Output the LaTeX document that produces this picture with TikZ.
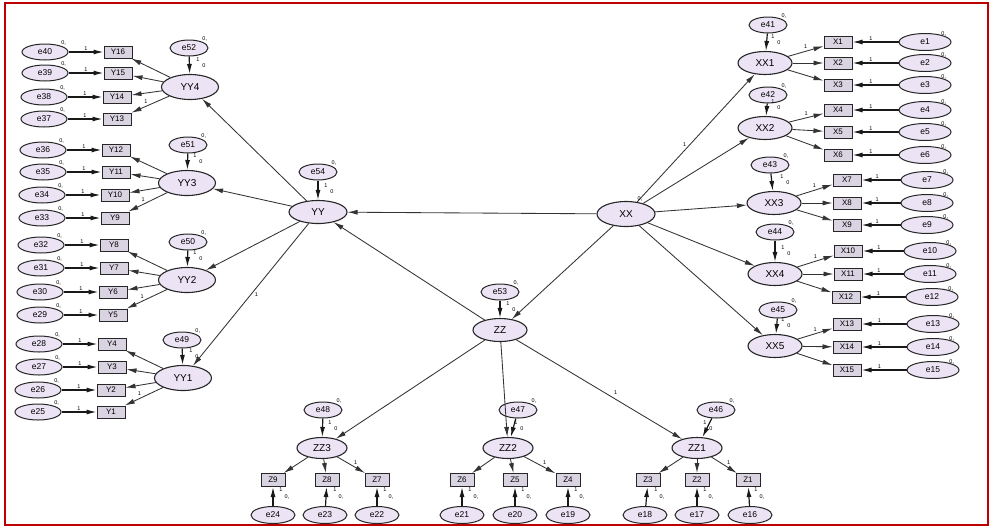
\documentclass[tikz,border=0pt]{standalone}
\usepackage{fontspec}
\setmainfont{Liberation Sans}
\usetikzlibrary{shapes.geometric,arrows.meta}
\definecolor{lav}{HTML}{ECE4F5}
\definecolor{boxc}{HTML}{DAD4E2}
\definecolor{framered}{HTML}{C00000}
\begin{document}
\begin{tikzpicture}[x=1pt,y=-1pt,
 err/.style={ellipse, draw=black!85, line width=1pt, fill=lav, minimum width=46pt, minimum height=16pt, inner sep=0pt, font=\fontsize{8.5}{8.5}\selectfont},
 rerr/.style={err, minimum width=52pt, minimum height=17pt},
 berr/.style={err, minimum width=44pt, minimum height=17pt},
 dist/.style={err, minimum width=38pt, minimum height=16pt},
 lat/.style={ellipse, draw=black!85, line width=1.1pt, fill=lav, minimum width=54pt, minimum height=23pt, inner sep=0pt, font=\fontsize{10}{10}\selectfont},
 obs/.style={rectangle, draw=black!85, line width=1pt, fill=boxc, minimum width=28pt, minimum height=12pt, inner sep=0pt, font=\fontsize{8}{8}\selectfont},
 bobs/.style={obs, minimum width=24pt, minimum height=13pt},
 arr/.style={-{Latex[length=10pt,width=5pt]}, line width=0.85pt, draw=black!80},
 earr/.style={arr, line width=1.2pt, draw=black!90},
 lbl/.style={font=\fontsize{5.5}{5.5}\selectfont, inner sep=0.5pt},
]
\useasboundingbox (0,0) rectangle (992,528);
\fill[white] (0,0) rectangle (992,528);
\draw[framered, line width=2pt] (5,3) rectangle (988,525);

% central latent variables
\node[lat, minimum width=58pt] (YY) at (318,212) {YY};
\node[lat, minimum width=58pt, minimum height=25pt] (XX) at (626,214) {XX};
\node[lat] (ZZ) at (500,330) {ZZ};
\node[dist] (e54) at (318,172) {e54};
\node[dist] (e53) at (500,292) {e53};

% first-order latent variables
\node[lat, minimum width=57pt, minimum height=25pt] (YY4) at (190,87) {YY4};
\node[lat, minimum width=57pt, minimum height=25pt] (YY3) at (187,183) {YY3};
\node[lat, minimum width=57pt, minimum height=25pt] (YY2) at (187,280) {YY2};
\node[lat, minimum width=57pt, minimum height=25pt] (YY1) at (183,378) {YY1};
\node[dist] (e52) at (189,48) {e52};
\node[dist] (e51) at (188,145) {e51};
\node[dist] (e50) at (188,242) {e50};
\node[dist] (e49) at (182,340) {e49};

\node[lat] (XX1) at (765,63) {XX1};
\node[lat] (XX2) at (765,128) {XX2};
\node[lat] (XX3) at (774,203) {XX3};
\node[lat] (XX4) at (775,274) {XX4};
\node[lat] (XX5) at (775,346) {XX5};
\node[dist] (e41) at (768,25) {e41};
\node[dist] (e42) at (768,95) {e42};
\node[dist] (e43) at (770,165) {e43};
\node[dist] (e44) at (775,232) {e44};
\node[dist] (e45) at (778,310) {e45};

\node[lat, minimum width=50pt, minimum height=21pt] (ZZ3) at (322,448) {ZZ3};
\node[lat, minimum width=50pt, minimum height=21pt] (ZZ2) at (508,448) {ZZ2};
\node[lat, minimum width=50pt, minimum height=21pt] (ZZ1) at (697,448) {ZZ1};
\node[dist] (e48) at (323,410) {e48};
\node[dist] (e47) at (518,410) {e47};
\node[dist] (e46) at (716,410) {e46};

% structural paths
\draw[arr] (XX) -- (YY);
\draw[arr] (ZZ) -- (YY);
\draw[arr] (XX) -- (ZZ);
\draw[arr] (YY) -- (YY4);
\draw[arr] (YY) -- (YY3);
\draw[arr] (YY) -- (YY2);
\draw[arr] (YY) -- (YY1) node[lbl, pos=0.5, right=3pt] {1};
\draw[arr] (XX) -- (XX1) node[lbl, pos=0.45, left=3pt] {1};
\draw[arr] (XX) -- (XX2);
\draw[arr] (XX) -- (XX3);
\draw[arr] (XX) -- (XX4);
\draw[arr] (XX) -- (XX5);
\draw[arr] (ZZ) -- (ZZ3);
\draw[arr] (ZZ) -- (ZZ2);
\draw[arr] (ZZ) -- (ZZ1) node[lbl, pos=0.6, above=4pt] {1};
\node[lbl] at (640,199) {0,};

% disturbances
\foreach \dn/\lv in {e52/YY4, e51/YY3, e50/YY2, e49/YY1, e54/YY, e53/ZZ, e41/XX1, e42/XX2, e43/XX3, e44/XX4, e45/XX5, e48/ZZ3, e47/ZZ2, e46/ZZ1}
{
 \draw[earr] (\dn) -- (\lv);
 \node[lbl] at ([xshift=8pt,yshift=14pt]\lv.north) {1};
 \node[lbl] at ([xshift=14pt,yshift=8pt]\lv.north) {0};
 \node[lbl] at ([xshift=2pt,yshift=3pt]\dn.north east) {0,};
}

% left indicators
\foreach \en/\bl/\y/\ex/\bx/\lv in {
 e40/Y16/52/45/118/YY4, e39/Y15/73/45/118/YY4, e38/Y14/97/44/117/YY4, e37/Y13/119/44/117/YY4,
 e36/Y12/150/43/116/YY3, e35/Y11/172/43/116/YY3, e34/Y10/195/42/115/YY3, e33/Y9/218/42/115/YY3,
 e32/Y8/245/41/114/YY2, e31/Y7/268/41/114/YY2, e30/Y6/292/40/113/YY2, e29/Y5/315/40/113/YY2,
 e28/Y4/344/39/112/YY1, e27/Y3/367/39/112/YY1, e26/Y2/390/38/111/YY1, e25/Y1/412/38/111/YY1}
{
 \node[err] (\en) at (\ex,\y) {\en};
 \node[obs] (\bl) at (\bx,\y) {\bl};
 \draw[earr] (\en) -- (\bl) node[lbl, midway, above=0.5pt] {1};
 \draw[arr] (\lv) -- (\bl);
 \node[lbl] at ([xshift=2pt,yshift=3pt]\en.north east) {0,};
}
\path (YY4) -- (Y13) node[lbl, pos=0.62, above=2pt] {1};
\path (YY3) -- (Y9) node[lbl, pos=0.62, above=2pt] {1};
\path (YY2) -- (Y5) node[lbl, pos=0.62, above=2pt] {1};
\path (YY1) -- (Y1) node[lbl, pos=0.62, above=2pt] {1};

% right indicators
\foreach \en/\bl/\y/\ex/\bx/\lv in {
 e1/X1/42/925/838/XX1, e2/X2/63/925/838/XX1, e3/X3/85/925/838/XX1,
 e4/X4/110/925/838/XX2, e5/X5/132/925/838/XX2, e6/X6/155/925/838/XX2,
 e7/X7/180/927/847/XX3, e8/X8/203/927/847/XX3, e9/X9/225/927/847/XX3,
 e10/X10/251/930/848/XX4, e11/X11/274/930/848/XX4, e12/X12/297/932/846/XX4,
 e13/X13/324/933/847/XX5, e14/X14/347/933/847/XX5, e15/X15/370/933/847/XX5}
{
 \node[rerr] (\en) at (\ex,\y) {\en};
 \node[obs] (\bl) at (\bx,\y) {\bl};
 \draw[earr] (\en) -- (\bl) node[lbl, pos=0.6, above=0.5pt] {1};
 \draw[arr] (\lv) -- (\bl);
 \node[lbl] at ([xshift=0pt,yshift=2pt]\en.north east) {0,};
}
\foreach \lv/\bl in {XX1/X1, XX2/X4, XX3/X7, XX4/X10, XX5/X13}
{
 \path (\lv) -- (\bl) node[lbl, pos=0.5, above=2pt] {1};
}

% bottom indicators
\foreach \en/\bl/\x/\bxx/\lv in {
 e24/Z9/273/273/ZZ3, e23/Z8/325/327/ZZ3, e22/Z7/377/377/ZZ3,
 e21/Z6/462/462/ZZ2, e20/Z5/515/515/ZZ2, e19/Z4/568/568/ZZ2,
 e18/Z3/645/648/ZZ1, e17/Z2/697/697/ZZ1, e16/Z1/750/748/ZZ1}
{
 \node[berr] (\en) at (\x,515) {\en};
 \node[bobs] (\bl) at (\bxx,480) {\bl};
 \draw[earr] (\en) -- (\bl);
 \draw[arr] (\lv) -- (\bl);
 \node[lbl] at (\bxx+8,490) {1};
 \node[lbl] at (\bxx+14,497) {0,};
}
\path (ZZ3) -- (Z7) node[lbl, pos=0.55, above right=1pt] {1};
\path (ZZ2) -- (Z4) node[lbl, pos=0.55, above right=1pt] {1};
\path (ZZ1) -- (Z1) node[lbl, pos=0.55, above right=1pt] {1};
\end{tikzpicture}
\end{document}
